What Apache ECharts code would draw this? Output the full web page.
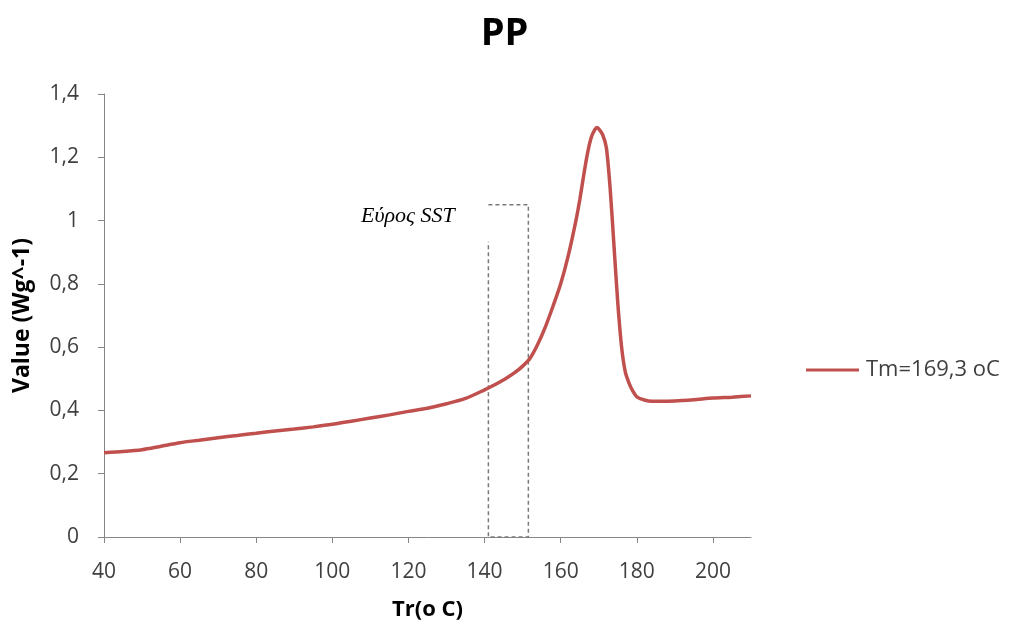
<!DOCTYPE html>
<html><head><meta charset="utf-8">
<script src="https://cdn.jsdelivr.net/npm/echarts@6/dist/echarts.min.js"></script>
<style>html,body{margin:0;padding:0;background:#fff}#c{width:1009px;height:626px}</style>
</head><body><div id="c"></div>
<script>
const chartTitle = 'PP';
const seriesName = 'Tm=169,3 oC';
const temps = [40,45,50,55,60,65,70,75,80,85,90,95,100,105,110,115,120,125,130,135,140,142,144,146,148,150,152,154,156,158,160,162,164,165,166,167,168,169,169.5,170,171,172,173,174,175,176,177,178,179,180,182,184,186,190,195,200,205,210];
const values = [0.266,0.270,0.276,0.287,0.298,0.306,0.314,0.321,0.328,0.335,0.341,0.348,0.356,0.366,0.376,0.386,0.397,0.407,0.421,0.438,0.465,0.477,0.490,0.504,0.520,0.540,0.566,0.610,0.665,0.730,0.800,0.890,1.000,1.065,1.140,1.210,1.262,1.288,1.294,1.290,1.272,1.230,1.100,0.920,0.740,0.600,0.520,0.485,0.460,0.443,0.433,0.429,0.429,0.430,0.434,0.439,0.442,0.446];
const boxX = [141,151.5,151.5,141,141];
const boxY = [1.05,1.05,0,0,0.933];
const annotation = 'Εύρος SST';
const xTicks = [40,60,80,100,120,140,160,180,200];
const yTicks = [0,0.2,0.4,0.6,0.8,1,1.2,1.4];

const font = '"Open Sans", sans-serif';
const chart = echarts.init(document.getElementById('c'));
chart.setOption({
  animation:false,
  backgroundColor:'#fff',
  title:{text:chartTitle,left:'center',top:10,textStyle:{fontFamily:font,fontSize:38,fontWeight:'bold',color:'#000'}},
  legend:{data:[{name:seriesName,icon:'rect'}],left:801,top:354,itemWidth:53,itemHeight:3,itemGap:4,
    textStyle:{fontFamily:font,fontSize:22,color:'#404040',padding:[0,0,0,2]}},
  grid:{left:104,top:94,width:647,height:444},
  xAxis:{type:'value',min:40,max:210,interval:20,
    name:'Tr(o C)',nameLocation:'middle',nameGap:62,
    nameTextStyle:{fontFamily:font,fontSize:22,fontWeight:'bold',color:'#000'},
    axisLine:{lineStyle:{color:'#868686',width:1}},
    axisTick:{customValues:xTicks,length:6,lineStyle:{color:'#868686'}},
    axisLabel:{customValues:xTicks,margin:25,fontFamily:font,fontSize:21,color:'#404040'},
    splitLine:{show:false}},
  yAxis:{type:'value',min:0,max:1.4,interval:0.2,
    name:'Value (Wg^-1)',nameLocation:'middle',nameGap:70,
    nameTextStyle:{fontFamily:font,fontSize:23,fontWeight:'bold',color:'#000'},
    axisLine:{show:true,lineStyle:{color:'#868686',width:1}},
    axisTick:{show:true,customValues:yTicks,length:6,lineStyle:{color:'#868686'}},
    axisLabel:{customValues:yTicks,margin:25,fontFamily:font,fontSize:21,color:'#404040',
      formatter:v=>String(Math.round(v*10)/10).replace('.',',')},
    splitLine:{show:false}},
  graphic:[{type:'text',left:361,top:205,style:{text:annotation,font:'italic 22px "Liberation Serif", "DejaVu Serif", serif',fill:'#000'}}],
  series:[
    {name:'box',type:'line',data:boxX.map((x,i)=>[x,boxY[i]]),symbol:'none',silent:true,
      lineStyle:{color:'#7a7a7a',width:1.5,type:[4,3]},z:1},
    {name:seriesName,type:'line',data:temps.map((t,i)=>[t,values[i]]),symbol:'none',
      smooth:0.25,lineStyle:{color:'#c0504d',width:3.5},itemStyle:{color:'#c0504d'},z:3}
  ]
});
</script></body></html>
